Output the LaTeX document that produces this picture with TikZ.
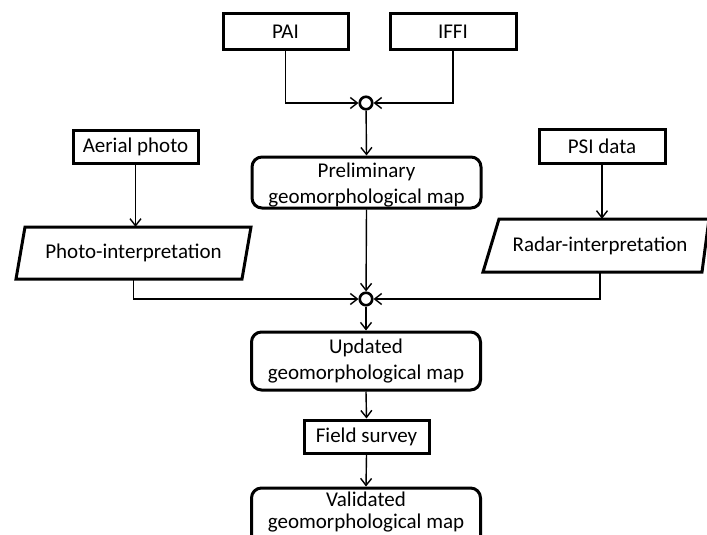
\documentclass[tikz,border=0pt]{standalone}
\usepackage{fontspec}
\setmainfont{Carlito}
\usetikzlibrary{arrows.meta}
\begin{document}
\begin{tikzpicture}[x=1pt,y=-1pt,
  every node/.style={font=\fontsize{21}{26}\selectfont, inner sep=0pt, align=center},
  sqbox/.style={draw, line width=3pt, rectangle},
  rbox/.style={draw, line width=3pt, rectangle, rounded corners=10pt},
  junc/.style={draw, circle, line width=2.6pt, minimum size=12.5pt, fill=white},
  conn/.style={line width=1.4pt, -{Straight Barb[length=7pt,width=11pt]}},
  pline/.style={line width=3pt, line join=miter}
]
\useasboundingbox (0,0) rectangle (707,535);
\clip (0,0) rectangle (707,535);

% top sources
\node[sqbox, minimum width=125pt, minimum height=36pt] (pai) at (285.5,32) {PAI};
\node[sqbox, minimum width=126pt, minimum height=36pt] (iffi) at (453,32) {IFFI};
\node[junc] (c1) at (366,103) {};

% preliminary map
\node[rbox, minimum width=229pt, minimum height=51pt] (prelim) at (366.5,182.5) {};
\node at (366.5,185) {Preliminary\\geomorphological map};

% left branch
\node[sqbox, minimum width=125pt, minimum height=33pt] (aerial) at (135.5,146.5) {Aerial photo};
\node[minimum width=226pt, minimum height=52pt] (photo) at (133.5,253) {Photo-interpretation};
\draw[pline] (25,227) -- (251,227) -- (242,279) -- (16,279) -- cycle;

% right branch
\node[sqbox, minimum width=126pt, minimum height=34pt] (psi) at (602,146) {PSI data};
\node[minimum width=200pt, minimum height=53pt] (radar) at (600,245.5) {Radar-interpretation};
\draw[pline] (499,219) -- (709,219) -- (702,272) -- (483,272) -- cycle;

% second junction
\node[junc] (c2) at (366,299) {};

% lower chain
\node[rbox, minimum width=229pt, minimum height=58pt] (upd) at (366,361) {Updated\\geomorphological map};
\node[sqbox, minimum width=125pt, minimum height=33pt] (field) at (366.5,436.5) {Field survey};
\node[rbox, minimum width=229pt, minimum height=58pt] (valid) at (366,517) {};
\node[font=\fontsize{21}{22}\selectfont] at (366,512.5) {Validated\\geomorphological map};

% connectors
\draw[conn] (pai.south) |- (c1);
\draw[conn] (iffi.south) |- (c1);
\draw[conn] (c1) -- (prelim.north);
\draw[conn] (aerial.south) -- (aerial.south |- photo.north);
\draw[conn] (psi.south) -- (psi.south |- radar.north);
\draw[conn] (photo.south) |- (c2);
\draw[conn] (radar.south) |- (c2);
\draw[conn] (prelim.south) -- (c2);
\draw[conn] (c2) -- (upd.north);
\draw[conn] (upd.south) -- (field.north);
\draw[conn] (field.south) -- (valid.north);
\end{tikzpicture}
\end{document}
